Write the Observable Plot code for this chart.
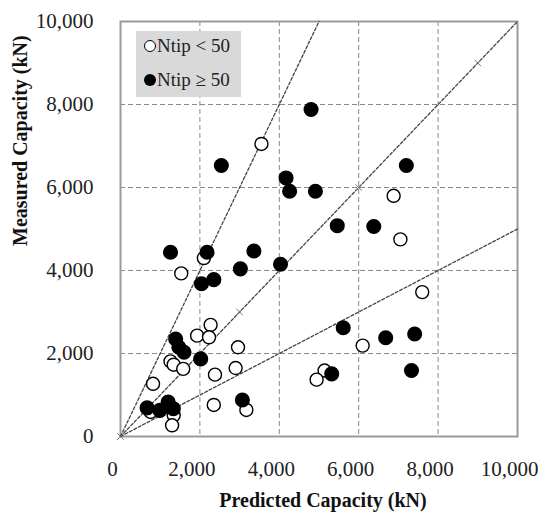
<!DOCTYPE html>
<html>
<head>
<meta charset="utf-8">
<script src="https://cdn.jsdelivr.net/npm/d3@7"></script>
<script src="https://cdn.jsdelivr.net/npm/@observablehq/plot@0.6"></script>
<style>
  body { margin: 0; background: #fff; }
  #wrap { position: relative; width: 548px; height: 514px; font-family: "Liberation Serif", "Times New Roman", Tinos, "DejaVu Serif", "Noto Serif", serif; }
  #wrap svg text { font-family: "Liberation Serif", "Times New Roman", Tinos, "DejaVu Serif", "Noto Serif", serif; }
  #legend { position: absolute; left: 136px; top: 31px; width: 105px; height: 66px; background: #d9d9d9; color: #222; font-size: 19px; }
  .item { position: absolute; left: 8px; display: flex; align-items: center; white-space: nowrap; }
  .sw { width: 12px; height: 12px; border-radius: 50%; box-sizing: border-box; margin-right: 1px; }
  .open { border: 1.5px solid #000; background: #fff; }
  .fill { background: #000; }
</style>
</head>
<body>
<div id="wrap"></div>
<script>
// Ntip < 50 (open circles): [predicted, measured] in kN
const openPred = [3550, 6880, 7050, 7600, 2100, 1530, 2270, 1930, 2230, 2960, 1260, 1340, 1580, 2900, 2380, 820, 760, 1340, 1300, 2350, 3170, 6100, 5140, 4940];
const openMeas = [7050, 5800, 4750, 3480, 4300, 3930, 2690, 2430, 2390, 2150, 1810, 1730, 1630, 1650, 1490, 1270, 590, 510, 270, 760, 640, 2190, 1590, 1370];
// Ntip >= 50 (filled circles)
const fillPred = [4800, 2540, 4170, 4260, 4910, 7200, 5460, 6380, 1260, 2180, 3360, 3020, 4030, 2040, 2350, 1390, 1470, 1600, 2020, 670, 990, 1200, 1330, 3070, 5610, 6680, 7410, 5320, 7330];
const fillMeas = [7880, 6530, 6230, 5910, 5910, 6530, 5080, 5060, 4440, 4440, 4470, 4040, 4150, 3680, 3780, 2350, 2150, 2030, 1870, 690, 630, 830, 670, 880, 2620, 2380, 2470, 1510, 1590];
// reference lines measured = slope * predicted
const refSlopes = [2, 1, 0.5];
const crossMarks = [0, 3000, 6000, 9000];
const ticks = [0, 2000, 4000, 6000, 8000, 10000];
const gridTicks = [2000, 4000, 6000, 8000];
const xTitle = "Predicted Capacity (kN)";
const yTitle = "Measured Capacity (kN)";
const legendLabels = ["Ntip < 50", "Ntip \u2265 50"];

const openData = openPred.map((p, i) => ({p, m: openMeas[i]}));
const fillData = fillPred.map((p, i) => ({p, m: fillMeas[i]}));
const refLines = refSlopes.map(s => {
  const xe = Math.min(10000, 10000 / s);
  return [{p: 0, m: 0, s}, {p: xe, m: s * xe, s}];
});
const fmt = d3.format(",");
const serif = "'Liberation Serif', 'Times New Roman', Tinos, 'DejaVu Serif', 'Noto Serif', serif";

const chart = Plot.plot({
  width: 548,
  height: 514,
  marginLeft: 120,
  marginRight: 31,
  marginTop: 21,
  marginBottom: 78,
  style: {fontFamily: serif, background: "#fff"},
  x: {domain: [0, 10000]},
  y: {domain: [0, 10000]},
  marks: [
    Plot.ruleX(gridTicks, {stroke: "#8a8a8a", strokeDasharray: "5,3", strokeWidth: 1}),
    Plot.ruleY(gridTicks, {stroke: "#8a8a8a", strokeDasharray: "5,3", strokeWidth: 1}),
    Plot.frame({stroke: "#9a9a9a", strokeWidth: 2}),
    ...refLines.map(l => Plot.line(l, {x: "p", y: "m", stroke: "#444", strokeWidth: 1.3, strokeDasharray: "3,2"})),
    Plot.dot(crossMarks, {x: d => d, y: d => d, symbol: "times", r: 3, stroke: "#777", strokeWidth: 1}),
    Plot.dot(openData, {x: "p", y: "m", r: 6.5, fill: "#fff", stroke: "#000", strokeWidth: 1.4}),
    Plot.dot(fillData, {x: "p", y: "m", r: 6.8, fill: "#000", stroke: "#000"}),
    Plot.axisX(ticks, {tickSize: 0, tickPadding: 25, tickFormat: fmt, fontSize: 21, label: null, dx: -8, fill: "#222"}),
    Plot.axisY(ticks, {tickSize: 0, tickPadding: 27, tickFormat: fmt, fontSize: 21, label: null, fill: "#222"}),
    Plot.text([xTitle], {frameAnchor: "bottom", dy: 70, dx: 4, fontSize: 20, fontWeight: "bold", fill: "#111"}),
    Plot.text([yTitle], {frameAnchor: "left", dx: -100, dy: 17, rotate: -90, fontSize: 20, fontWeight: "bold", fill: "#111"})
  ]
});

const wrap = document.getElementById("wrap");
wrap.appendChild(chart);
const legend = document.createElement("div");
legend.id = "legend";
legendLabels.forEach((lab, i) => {
  const it = document.createElement("div");
  it.className = "item";
  it.style.top = (i === 0 ? 4 : 38) + "px";
  const sw = document.createElement("span");
  sw.className = "sw " + (i === 0 ? "open" : "fill");
  const tx = document.createElement("span");
  tx.textContent = lab;
  it.appendChild(sw);
  it.appendChild(tx);
  legend.appendChild(it);
});
wrap.appendChild(legend);
</script>
</body>
</html>
